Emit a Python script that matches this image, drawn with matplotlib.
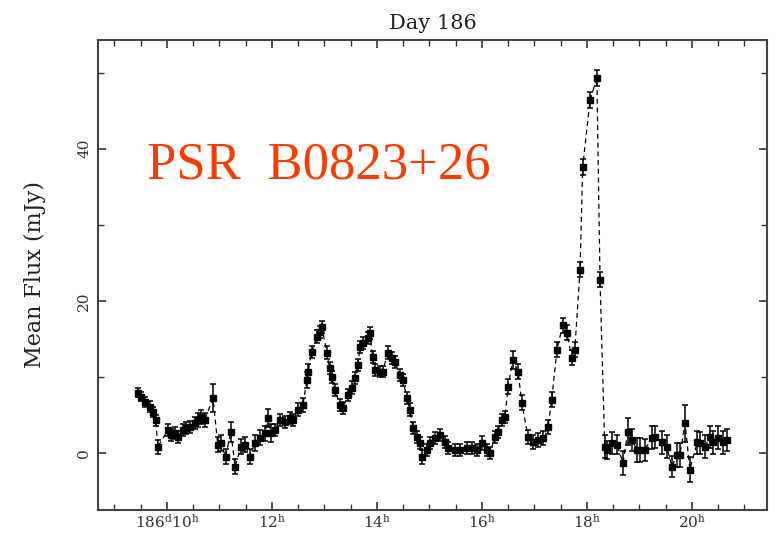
import matplotlib
matplotlib.use("Agg")
import matplotlib.pyplot as plt
from matplotlib.ticker import MultipleLocator, FixedLocator

plt.rcParams['mathtext.fontset'] = 'dejavuserif'

# time of day (hours, day 186) and mean flux (mJy)
hours = [9.45, 9.50, 9.58, 9.68, 9.73, 9.79, 9.83, 10.02, 10.08, 10.15, 10.21, 10.30,
         10.36, 10.44, 10.53, 10.59, 10.65, 10.72, 10.88, 10.97, 11.03, 11.12, 11.22,
         11.30, 11.41, 11.49, 11.58, 11.68, 11.77, 11.87, 11.92, 11.98, 12.06, 12.15,
         12.25, 12.34, 12.40, 12.50, 12.59, 12.67, 12.69, 12.76, 12.86, 12.91, 12.95,
         13.05, 13.10, 13.14, 13.20, 13.30, 13.35, 13.45, 13.52, 13.58, 13.64, 13.68,
         13.73, 13.83, 13.87, 13.92, 13.96, 14.06, 14.11, 14.21, 14.29, 14.34, 14.44,
         14.50, 14.57, 14.63, 14.69, 14.76, 14.82, 14.86, 14.95, 15.01, 15.10, 15.20,
         15.30, 15.35, 15.49, 15.58, 15.71, 15.81, 15.90, 16.00, 16.10, 16.15, 16.25,
         16.30, 16.38, 16.44, 16.50, 16.59, 16.69, 16.76, 16.88, 16.97, 17.07, 17.16,
         17.26, 17.33, 17.43, 17.54, 17.62, 17.71, 17.77, 17.87, 17.92, 18.06, 18.19,
         18.25, 18.34, 18.38, 18.48, 18.57, 18.69, 18.78, 18.86, 18.95, 19.01, 19.10,
         19.24, 19.30, 19.43, 19.52, 19.62, 19.71, 19.77, 19.87, 19.96, 20.10, 20.15,
         20.25, 20.34, 20.40, 20.50, 20.59, 20.67]
flux = [7.9, 7.4, 6.7, 6.1, 5.4, 4.3, 0.8, 3.0, 2.4, 2.6, 2.1, 3.0,
        3.3, 3.4, 3.9, 4.3, 4.7, 4.3, 7.2, 1.1, 1.3, -0.5, 2.8,
        -1.8, 0.8, 1.1, -0.5, 1.3, 2.0, 2.6, 4.6, 2.6, 3.0, 4.3,
        4.1, 4.6, 4.3, 5.7, 6.3, 9.6, 10.7, 13.3, 15.3, 15.9, 16.6,
        13.2, 11.2, 10.0, 8.3, 6.3, 5.9, 7.6, 8.6, 9.9, 11.6, 13.9,
        14.5, 15.1, 15.8, 12.6, 10.9, 10.7, 10.7, 13.2, 12.5, 12.0, 10.3,
        9.6, 7.2, 5.7, 3.3, 2.1, 1.3, -0.5, 0.4, 1.3, 2.0, 2.4,
        1.4, 0.7, 0.4, 0.4, 0.7, 0.7, 0.4, 1.3, 0.4, 0.0, 2.1,
        2.8, 4.3, 4.7, 8.7, 12.2, 10.7, 6.6, 2.1, 1.4, 1.7, 2.0,
        3.4, 7.0, 13.6, 16.8, 15.8, 12.5, 13.6, 24.1, 37.6, 46.4, 49.3,
        22.8, 0.8, 0.4, 1.3, 1.1, -1.3, 2.8, 1.7, 0.4, 0.4, 0.4,
        2.0, 2.1, 1.4, 0.8, -1.8, -0.3, -0.3, 3.9, -2.2, 1.4, 1.3,
        0.8, 2.1, 1.4, 2.0, 1.4, 1.7]
err = [0.6, 0.6, 0.6, 0.7, 0.7, 0.7, 0.9, 0.8, 0.8, 0.8, 0.8, 0.8,
       0.8, 0.8, 0.8, 0.9, 0.9, 0.9, 1.8, 1.0, 1.0, 1.0, 1.3,
       1.0, 1.0, 1.0, 1.0, 1.0, 1.0, 1.0, 1.2, 1.2, 0.8, 0.8,
       0.8, 0.8, 0.8, 0.9, 0.9, 1.0, 1.0, 0.8, 0.8, 0.8, 0.8,
       0.8, 0.8, 0.8, 0.8, 0.8, 0.8, 0.8, 0.8, 0.8, 0.8, 0.8,
       0.8, 0.8, 0.8, 0.8, 0.8, 0.7, 0.7, 0.8, 0.8, 0.8, 0.8,
       0.8, 0.8, 0.8, 0.8, 0.8, 0.8, 0.9, 0.8, 0.8, 0.8, 0.8,
       0.8, 0.8, 0.8, 0.8, 0.8, 0.8, 0.8, 0.9, 0.8, 0.8, 0.8,
       0.8, 0.8, 0.8, 1.0, 1.2, 1.0, 1.0, 0.9, 0.9, 0.9, 0.9,
       0.9, 1.0, 1.0, 1.0, 1.0, 1.0, 1.0, 1.0, 1.0, 1.0, 1.0,
       1.0, 1.5, 1.2, 1.5, 1.3, 1.6, 1.8, 1.4, 1.6, 1.6, 1.4,
       1.5, 1.5, 1.5, 1.5, 1.4, 1.6, 1.6, 2.4, 1.6, 1.5, 1.5,
       1.5, 1.5, 1.5, 1.5, 1.5, 1.5]

xtick_pos = [10, 12, 14, 16, 18, 20]
xtick_labels = [r'$186^{\rm d}10^{\rm h}$', r'$12^{\rm h}$', r'$14^{\rm h}$',
                r'$16^{\rm h}$', r'$18^{\rm h}$', r'$20^{\rm h}$']

fig = plt.figure(figsize=(7.79, 5.40), dpi=100)
ax = fig.add_axes([0.1258, 0.0556, 0.8588, 0.8704])

ax.plot(hours, flux, color='black', ls=(0, (4, 3)), lw=0.9)
ax.errorbar(hours, flux, yerr=err, fmt='s', ms=4.5, color='black',
            ecolor='black', elinewidth=1.1, capsize=2, capthick=1.1)

ax.set_xlim(8.69, 21.43)
ax.set_ylim(-7.5, 54.3)

ax.xaxis.set_major_locator(FixedLocator(xtick_pos))
ax.set_xticklabels(xtick_labels, fontsize=11, family='DejaVu Serif', color='#333333')
ax.xaxis.set_minor_locator(MultipleLocator(0.5))
ax.yaxis.set_major_locator(MultipleLocator(20))
ax.yaxis.set_minor_locator(MultipleLocator(10))
for lab in ax.get_yticklabels():
    lab.set_rotation(90)
    lab.set_va('center')
    lab.set_family('DejaVu Serif')
    lab.set_fontsize(11)
    lab.set_color('#333333')

ax.tick_params(which='both', direction='in', top=True, right=True, color='#333333')
ax.tick_params(which='major', length=6, width=1.2)
ax.tick_params(axis='x', which='major', pad=2)
ax.tick_params(axis='y', which='major', pad=5)
ax.tick_params(which='minor', length=4, width=1.0)
for s in ax.spines.values():
    s.set_color('#444444')
    s.set_linewidth(1.5)

ax.set_ylabel('Mean Flux (mJy)', fontsize=16, family='DejaVu Serif',
              color='#222222', labelpad=22)
ax.set_title('Day 186', fontsize=15, family='DejaVu Serif', color='#222222', pad=8)

ax.text(0.073, 0.706, 'PSR  B0823+26', transform=ax.transAxes,
        fontsize=38, family='Liberation Serif', color='#fa3c00', va='baseline')

fig.savefig('out.png', dpi=100)
